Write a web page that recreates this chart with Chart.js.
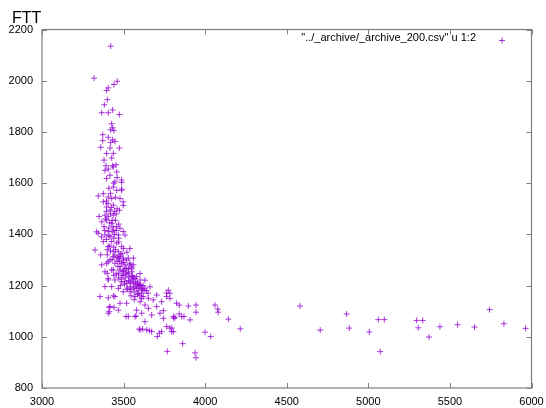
<!DOCTYPE html>
<html>
<head>
<meta charset="utf-8">
<script src="https://cdn.jsdelivr.net/npm/chart.js@4"></script>
<style>
html,body{margin:0;padding:0;background:#fff;}
canvas{display:block;}
</style>
</head>
<body>
<canvas id="c" width="546" height="408"></canvas>
<script>
// ---- data ----
const chartTitle = "FTT";
const seriesLabel = '"../_archive/_archive_200.csv" u 1:2';
const xTicks = [3000, 3500, 4000, 4500, 5000, 5500, 6000];
const yTicks = [800, 1000, 1200, 1400, 1600, 1800, 2000, 2200];

// upper branch (FTT > 1600)
const upperX = [3421,3319,3461,3441,3406,3396,3400,3382,3366,3406,3433,3474,3427,3433,3421,3441,3372,3406,3433,3372,3421,3447,3360,3417,3474,3396,3437,3380,3427,3392,3433,3454,3406,3386,3437,3458,3417,3396,3447,3488,3440,3460];
const upperY = [2135,2010,1998,1985,1972,1962,1926,1906,1875,1875,1886,1868,1832,1816,1808,1805,1789,1779,1769,1766,1759,1763,1740,1737,1737,1716,1716,1690,1698,1668,1668,1672,1655,1650,1663,1644,1631,1618,1605,1612,1600,1622];

// middle branch (1300 - 1600)
const midX = [3437,3458,3488,3376,3345,3406,3427,3478,3498,3376,3396,3437,3417,3386,3406,3437,3396,3366,3427,3458,3478,3437,3406,3345,3386,3417,3468,3498,3376,3427,3458,3406,3488,3325,3437,3468,3447,3478,3498,3417,3519,3335,3488,3488,3498,3474,3509,3539,3560,3410,3420,3450,3395,3460,3420,3450,3380,3410,3445,3395,3440,3470,3415,3450,3490,3360,3400,3430,3460,3500,3520,3455,3430,3395,3350,3365,3470,3405,3425,3445,3390,3415,3435,3455,3400,3420,3440,3460,3480,3410,3430,3470,3385];
const midY = [1585,1572,1572,1559,1550,1546,1540,1540,1527,1527,1507,1514,1495,1475,1469,1475,1456,1449,1443,1430,1424,1417,1411,1404,1398,1391,1398,1411,1372,1372,1366,1352,1352,1339,1332,1332,1319,1313,1307,1300,1300,1410,1603,1577,1513,1494,1397,1345,1307,1580,1560,1545,1530,1500,1480,1455,1430,1425,1400,1380,1385,1370,1355,1340,1325,1320,1320,1302,1295,1345,1330,1480,1455,1490,1470,1390,1440,1520,1505,1490,1460,1445,1430,1415,1340,1335,1350,1310,1320,1395,1410,1385,1415];

// dense core (1150 - 1300)
const coreX = [3366,3396,3447,3488,3509,3539,3386,3437,3478,3519,3550,3560,3406,3437,3468,3498,3529,3478,3509,3539,3427,3468,3498,3529,3550,3570,3406,3447,3488,3519,3560,3591,3601,3580,3611,3427,3386,3468,3498,3539,3406,3447,3355,3570,3621,3652,3682,3601,3519,3478,3417,3631,3652,3703,3733,3764,3784,3825,3580,3611,3672,3723,3744,3805,3529,3468,3406,3570,3631,3601,3642,3672,3733,3764,3784,3795,3856,3406,3437,3550,3601,3631,3662,3703,3774,3784,3490,3510,3530,3545,3520,3500,3470,3480,3540,3560,3575,3590,3610,3620,3555,3530,3505,3465,3440,3600,3585,3640,3650,3565,3545,3495,3515,3535,3555,3575,3595,3615,3485,3505,3525,3545,3565,3585,3605,3625,3540,3560,3580,3600,3520,3500,3475,3455,3590,3610,3630,3570,3550];
const coreY = [1281,1287,1287,1287,1281,1287,1254,1261,1261,1267,1254,1281,1293,1313,1307,1300,1307,1274,1267,1281,1261,1248,1241,1248,1234,1228,1228,1222,1215,1209,1209,1202,1222,1189,1189,1196,1196,1189,1176,1176,1152,1157,1157,1157,1157,1150,1144,1137,1131,1131,1118,1124,1111,1118,1137,1157,1170,1131,1104,1092,1085,1092,1072,1079,1079,1104,1092,1079,1059,1027,1027,1020,1020,1040,1034,1020,1079,1222,1160,1272,1247,1221,1195,1163,1182,1150,1240,1230,1220,1210,1250,1260,1230,1200,1195,1190,1215,1180,1170,1200,1240,1265,1215,1275,1240,1160,1165,1180,1170,1145,1160,1255,1245,1235,1225,1205,1195,1185,1225,1205,1190,1185,1175,1210,1200,1180,1215,1230,1235,1205,1185,1290,1295,1245,1170,1150,1190,1195,1265];

// tail (sparse points to the right)
const tailX = [3400,3412,3412,3441,3515,3576,3596,3617,3658,3707,3719,3744,3764,3815,3841,3841,3870,3809,3897,3907,3944,3944,3768,3862,3938,3944,3999,4034,4060,4077,4080,4142,4215,3795,3805,4581,4705,4867,4883,5006,5061,5098,5073,5296,5333,5306,5372,5439,5547,5651,5743,5831,5964];
const tailY = [1248,1115,1098,1115,1079,1081,1030,1030,1024,1001,1014,1102,1171,1076,1124,1089,1079,1072,1120,1066,1124,1096,943,973,937,918,1018,1001,1124,1108,1096,1069,1031,1034,1020,1120,1026,1089,1034,1019,1067,1067,942,1064,1064,1035,999,1039,1047,1038,1106,1051,1033];

// ---- build dataset from arrays ----
const allX = upperX.concat(midX, coreX, tailX);
const allY = upperY.concat(midY, coreY, tailY);
const points = allX.map((x, i) => ({ x: x, y: allY[i] }));

const markColor = 'rgba(148,0,211,0.78)';
const fontFam = '"Liberation Sans", Arial, Helvetica, sans-serif';

const framePlugin = {
  id: 'frame',
  beforeDatasetsDraw(chart) {
    const { ctx, chartArea: a, scales } = chart;
    ctx.save();
    ctx.strokeStyle = '#7f7f7f';
    ctx.lineWidth = 1.2;
    ctx.strokeRect(a.left, a.top, a.right - a.left, a.bottom - a.top);
    ctx.lineWidth = 1;
    const tl = 5;
    ctx.beginPath();
    xTicks.forEach(v => {
      const px = Math.round(scales.x.getPixelForValue(v)) + 0.5;
      ctx.moveTo(px, a.bottom); ctx.lineTo(px, a.bottom - tl);
      ctx.moveTo(px, a.top); ctx.lineTo(px, a.top + tl);
    });
    yTicks.forEach(v => {
      const py = Math.round(scales.y.getPixelForValue(v)) + 0.5;
      ctx.moveTo(a.left, py); ctx.lineTo(a.left + tl, py);
      ctx.moveTo(a.right, py); ctx.lineTo(a.right - tl, py);
    });
    ctx.stroke();
    ctx.restore();
  },
  afterDraw(chart) {
    const { ctx } = chart;
    ctx.save();
    ctx.fillStyle = '#000';
    ctx.font = '16px ' + fontFam;
    ctx.textAlign = 'left';
    ctx.textBaseline = 'alphabetic';
    ctx.fillText(chartTitle, 12, 22.5);
    ctx.font = '11px ' + fontFam;
    ctx.textAlign = 'right';
    ctx.textBaseline = 'middle';
    ctx.fillText(seriesLabel, 476, 37.5);
    ctx.strokeStyle = markColor;
    ctx.lineWidth = 1;
    ctx.beginPath();
    ctx.moveTo(499, 40.5); ctx.lineTo(505, 40.5);
    ctx.moveTo(502, 37.5); ctx.lineTo(502, 43.5);
    ctx.stroke();
    ctx.restore();
  }
};

new Chart(document.getElementById('c'), {
  type: 'scatter',
  data: {
    datasets: [{
      label: seriesLabel,
      data: points,
      pointStyle: 'cross',
      pointRadius: 3,
      pointHoverRadius: 3,
      pointBorderWidth: 1,
      borderColor: markColor,
      backgroundColor: markColor
    }]
  },
  options: {
    responsive: false,
    animation: false,
    devicePixelRatio: 1,
    layout: { padding: { top: 29.5, right: 14.5, left: 0, bottom: 0 } },
    plugins: { legend: { display: false }, tooltip: { enabled: false }, title: { display: false } },
    scales: {
      x: {
        type: 'linear', min: 3000, max: 6000,
        afterBuildTicks: s => { s.ticks = xTicks.map(v => ({ value: v })); },
        afterFit: s => { s.height = 20; s.paddingLeft = 0; s.paddingRight = 0; },
        grid: { display: false, drawTicks: false },
        border: { display: false },
        ticks: { padding: 7, color: '#000', maxRotation: 0, autoSkip: false, font: { family: fontFam, size: 11 }, callback: v => String(v) }
      },
      y: {
        type: 'linear', min: 800, max: 2200,
        afterBuildTicks: s => { s.ticks = yTicks.map(v => ({ value: v })); },
        afterFit: s => { s.width = 42; s.paddingTop = 0; s.paddingBottom = 0; },
        grid: { display: false, drawTicks: false },
        border: { display: false },
        ticks: { padding: 9, color: '#000', autoSkip: false, font: { family: fontFam, size: 11 }, callback: v => String(v) }
      }
    }
  },
  plugins: [framePlugin]
});
</script>
</body>
</html>
